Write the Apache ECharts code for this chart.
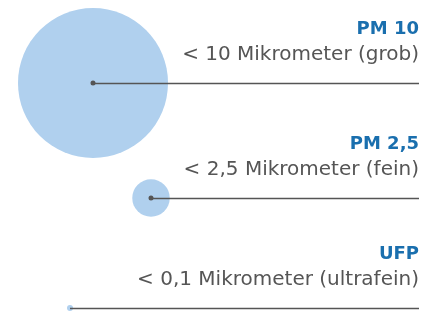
<!DOCTYPE html>
<html>
<head>
<meta charset="utf-8">
<script src="https://cdn.jsdelivr.net/npm/echarts@6/dist/echarts.min.js"></script>
<style>
  html, body { margin: 0; padding: 0; background: #fff; }
  #main { width: 433px; height: 312px; }
</style>
</head>
<body>
<div id="main"></div>
<script>
// Partikelgrößen (Durchmesser in Mikrometer)
const names = ['PM 10', 'PM 2,5', 'UFP'];
const descriptions = ['< 10 Mikrometer (grob)', '< 2,5 Mikrometer (fein)', '< 0,1 Mikrometer (ultrafein)'];
const sizes = [10, 2.5, 0.1];
const centerX = [93, 151, 70];
const rowY = [83, 198, 308];
const lineEnd = 419;

const chartDom = document.getElementById('main');
const myChart = echarts.init(chartDom);

const pxPerMicron = 15;

const option = {
  animation: false,
  grid: { left: 0, right: 0, top: 0, bottom: 0 },
  xAxis: { type: 'value', min: 0, max: 433, show: false },
  yAxis: { type: 'value', min: 0, max: 312, inverse: true, show: false },
  series: [
    {
      name: 'circles',
      type: 'scatter',
      data: sizes.map((s, i) => [centerX[i], rowY[i], s]),
      symbolSize: (d) => Math.max(d[2] * pxPerMicron, 6),
      itemStyle: { color: '#b0d0ee', opacity: 1 },
      silent: true,
      z: 1,
      markLine: {
        silent: true,
        symbol: 'none',
        label: { show: false },
        lineStyle: { color: '#555', width: 1.3, type: 'solid', opacity: 1 },
        data: sizes.map((s, i) => [
          { coord: [centerX[i], rowY[i]] },
          { coord: [lineEnd, rowY[i]] }
        ])
      }
    },
    {
      name: 'dots',
      type: 'scatter',
      data: sizes.map((s, i) => [centerX[i], rowY[i], s]).filter(d => d[2] >= 1),
      symbolSize: 5,
      itemStyle: { color: '#555', opacity: 1 },
      silent: true,
      z: 3
    },
    {
      name: 'labels',
      type: 'scatter',
      data: names.map((n, i) => ({ value: [lineEnd, rowY[i]], name: n, desc: descriptions[i] })),
      symbolSize: 0,
      itemStyle: { opacity: 1 },
      silent: true,
      z: 4,
      label: {
        show: true,
        position: [0, 0],
        align: 'right',
        verticalAlign: 'bottom',
        offset: [0, -15],
        formatter: (p) => '{t|' + p.name + '}\n{d|' + p.data.desc + '}',
        rich: {
          t: {
            fontFamily: 'DejaVu Sans',
            fontWeight: 'bold',
            fontSize: 18,
            color: '#1a6fae',
            align: 'right',
            lineHeight: 26
          },
          d: {
            fontFamily: 'DejaVu Sans',
            fontSize: 20,
            color: '#555',
            align: 'right',
            lineHeight: 26
          }
        }
      }
    }
  ]
};

myChart.setOption(option);
</script>
</body>
</html>
